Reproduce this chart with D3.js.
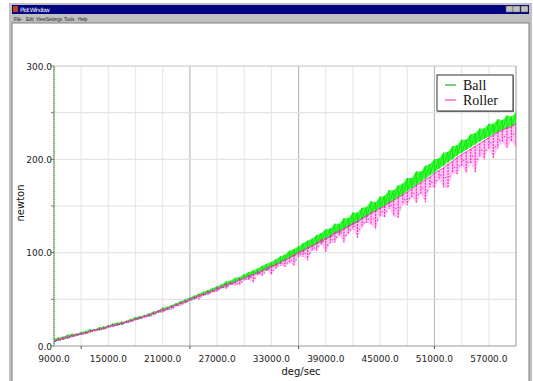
<!DOCTYPE html>
<html>
<head>
<meta charset="utf-8">
<script src="https://cdn.jsdelivr.net/npm/d3@7"></script>
<style>
body{margin:0;background:#fff;}
svg{display:block;}
</style>
</head>
<body>
<div id="container"></div>
<script>
var width = 533;
var height = 381;

// tick labels
var speedLabels = [9000, 15000, 21000, 27000, 33000, 39000, 45000, 51000, 57000];
var speedMajor = [12000, 24000, 36000, 51000];
var forceLabels = [0, 100, 200, 300];
var menuItems = ["File", "Edit", "View", "Settings", "Tools", "Help"];
var seriesNames = ["Ball", "Roller"];
var seriesColors = ["#00f000", "#ff22cc"];

// sampled every 500 deg/sec from 9000 to 60000 (newton), upper and lower edge of the noise
var ballHi = [8,9,10,12,13,13,15,16,18,18,20,21,22,24,25,26,27,29,31,32,33,35,37,38,41,42,44,46,48,50,
	52,54,56,58,60,62,64,66,69,70,73,74,77,79,81,83,86,88,90,93,96,98,102,104,107,110,113,115,119,121,
	125,126,131,131,137,137,143,143,148,149,155,154,160,161,167,167,172,174,180,180,187,187,193,195,200,201,207,208,214,215,
	221,221,227,228,233,233,238,238,243,242,247,246,250];
var ballLo = [4,6,7,8,10,11,12,13,15,16,17,18,20,21,22,23,25,26,28,29,31,32,34,36,37,39,41,43,45,46,
	49,50,53,54,56,58,60,62,64,66,68,70,72,73,76,77,80,81,84,86,89,91,94,96,99,101,104,106,109,111,
	114,116,120,121,125,127,130,132,136,138,142,144,147,150,153,156,159,162,166,169,172,176,179,183,186,190,193,197,200,204,
	207,210,213,216,219,222,224,227,229,231,233,235,237];
var rollerHi = [7,8,9,11,12,13,14,15,17,18,19,20,22,23,24,25,27,28,30,31,33,34,36,38,40,41,43,45,47,49,
	51,53,55,56,59,60,63,64,67,68,69,72,73,76,77,80,81,84,86,88,90,93,95,98,101,103,106,108,111,114,
	116,118,122,124,126,129,132,134,137,140,143,145,148,150,154,156,159,162,165,168,172,175,178,181,185,188,191,195,198,202,
	205,208,211,214,217,220,223,226,229,231,234,235,238];
var rollerLo = [4,5,7,8,9,11,12,13,14,16,17,18,19,21,22,23,24,26,27,29,30,31,33,35,36,38,39,42,43,46,
	48,51,50,54,55,57,58,62,61,65,65,65,70,71,68,76,75,81,76,83,86,85,89,86,96,96,92,102,102,109,
	100,110,111,118,111,120,125,116,127,132,130,125,139,138,147,139,137,152,151,159,153,163,154,170,169,178,170,169,185,184,
	193,185,196,186,203,200,212,201,212,218,212,219,214];

var speeds = d3.range(9000, 60001, 500);

var svg = d3.select('div#container')
	.append('svg')
	.attr('width', width)
	.attr('height', height)
	.style('font-family', '"DejaVu Sans", sans-serif');

// window frame
svg.append('rect').attr('x', 9).attr('y', 3).attr('width', 523).attr('height', 380).attr('fill', '#c0c0c0');
svg.append('rect').attr('x', 12).attr('y', 5).attr('width', 517).attr('height', 9).attr('fill', '#000080');
svg.append('rect').attr('x', 13).attr('y', 6).attr('width', 5).attr('height', 6).attr('fill', '#c04020');
svg.append('text').attr('x', 20).attr('y', 12).attr('fill', '#fff').attr('font-size', 6)
	.attr('textLength', 30).text('Plot Window');
[506, 513, 521].forEach(function(bx){
	svg.append('rect').attr('x', bx).attr('y', 6).attr('width', 7).attr('height', 6)
		.attr('fill', '#c0c0c0').attr('stroke', '#555').attr('stroke-width', 0.5);
});
var mx = [14, 26, 36, 46, 64, 78];
svg.selectAll('text.menu')
	.data(menuItems)
	.enter()
	.append('text')
	.attr('class', 'menu')
	.attr('x', function(d, i){ return mx[i]; })
	.attr('y', 20.5)
	.attr('font-family', '"Liberation Sans", sans-serif')
	.attr('font-size', 4.5)
	.attr('fill', '#222')
	.text(function(d){ return d; });
svg.append('rect').attr('x', 12).attr('y', 23).attr('width', 517).attr('height', 360)
	.attr('fill', '#fff').attr('stroke', '#808080').attr('stroke-width', 1);

// plot area
var pLeft = 54, pRight = 516, pTop = 66, pBottom = 346;
var x = d3.scaleLinear().domain([9000, 60000]).range([pLeft, pRight]);
var y = d3.scaleLinear().domain([0, 300]).range([pBottom, pTop]);

var G = svg.append('g').attr('id', 'plot');

G.selectAll('line.vgrid')
	.data(d3.range(12000, 60000, 3000))
	.enter()
	.append('line')
	.attr('class', 'vgrid')
	.attr('x1', function(d){ return x(d); })
	.attr('x2', function(d){ return x(d); })
	.attr('y1', pTop)
	.attr('y2', pBottom)
	.attr('stroke', function(d){ return speedMajor.indexOf(d) >= 0 && d != 12000 ? '#bcbcbc' : '#e8e8e8'; })
	.attr('stroke-width', 1.2);

G.selectAll('line.hgrid')
	.data(d3.range(50, 300, 50))
	.enter()
	.append('line')
	.attr('class', 'hgrid')
	.attr('x1', pLeft)
	.attr('x2', pRight)
	.attr('y1', function(d){ return y(d); })
	.attr('y2', function(d){ return y(d); })
	.attr('stroke', '#e4e4e4')
	.attr('stroke-width', 1.2);

// frame
G.append('line').attr('x1', pLeft).attr('x2', pRight).attr('y1', pTop).attr('y2', pTop).attr('stroke', '#c4c4c4');
G.append('line').attr('x1', pRight).attr('x2', pRight).attr('y1', pTop).attr('y2', pBottom).attr('stroke', '#aaaaaa').attr('stroke-width', 1.2);
G.append('line').attr('x1', pLeft).attr('x2', pRight).attr('y1', pBottom).attr('y2', pBottom).attr('stroke', '#9a9a9a').attr('stroke-width', 1.2);

// ticks
G.selectAll('line.xtick')
	.data(speedMajor)
	.enter()
	.append('line')
	.attr('x1', function(d){ return x(d); })
	.attr('x2', function(d){ return x(d); })
	.attr('y1', pBottom)
	.attr('y2', pBottom + 3)
	.attr('stroke', '#555');
G.selectAll('line.ytick')
	.data(d3.range(0, 301, 50))
	.enter()
	.append('line')
	.attr('x1', pLeft - 3)
	.attr('x2', pLeft)
	.attr('y1', function(d){ return y(d); })
	.attr('y2', function(d){ return y(d); })
	.attr('stroke', '#777');

G.selectAll('text.xlab')
	.data(speedLabels)
	.enter()
	.append('text')
	.attr('x', function(d){ return x(d); })
	.attr('y', 362)
	.attr('text-anchor', 'middle')
	.attr('font-size', 9)
	.attr('fill', '#222')
	.text(function(d){ return d3.format('.1f')(d); });
G.selectAll('text.ylab')
	.data(forceLabels)
	.enter()
	.append('text')
	.attr('x', pLeft - 2)
	.attr('y', function(d){ return y(d) + 3.5; })
	.attr('text-anchor', 'end')
	.attr('font-size', 9)
	.attr('fill', '#222')
	.text(function(d){ return d3.format('.1f')(d); });

svg.append('text').attr('x', 301).attr('y', 375).attr('text-anchor', 'middle')
	.attr('font-size', 10).attr('fill', '#111').text('deg/sec');
svg.append('text').attr('transform', 'translate(24,203) rotate(-90)').attr('text-anchor', 'middle')
	.attr('font-size', 10).attr('fill', '#111').text('newton');

// data
var clip = svg.append('clipPath').attr('id', 'pclip');
clip.append('rect').attr('x', pLeft).attr('y', pTop).attr('width', pRight - pLeft).attr('height', pBottom - pTop);

function zigzag(hi, lo){
	var pts = [];
	for(var i = 0; i < speeds.length; i++){
		pts.push([speeds[i], hi[i]]);
		pts.push([speeds[i], lo[i]]);
	}
	return pts;
}
var line = d3.line().x(function(d){ return x(d[0]); }).y(function(d){ return y(d[1]); });
function band(hi, lo){
	return d3.area()
		.x(function(d, i){ return x(speeds[i]); })
		.y0(function(d, i){ return y(lo[i]); })
		.y1(function(d, i){ return y(hi[i]); })(speeds);
}

var D = svg.append('g').attr('clip-path', 'url(#pclip)');
// Ball
D.append('path').attr('d', band(ballHi, ballLo)).attr('fill', seriesColors[0]).attr('opacity', 0.7);
D.append('path')
	.attr('d', line(zigzag(ballHi, ballLo)))
	.attr('fill', 'none')
	.attr('stroke', seriesColors[0])
	.attr('stroke-width', 1);
// Roller
D.append('path').attr('d', band(rollerHi, rollerLo)).attr('fill', seriesColors[1]).attr('opacity', 0.25);
D.selectAll('line.spike')
	.data(speeds)
	.enter()
	.append('line')
	.attr('x1', function(d){ return x(d); })
	.attr('x2', function(d){ return x(d); })
	.attr('y1', function(d, i){ return y(rollerHi[i]); })
	.attr('y2', function(d, i){ return y(rollerLo[i]); })
	.attr('stroke', seriesColors[1])
	.attr('stroke-width', 1.2)
	.attr('stroke-dasharray', '2,1');
D.append('path')
	.attr('d', line(zigzag(rollerHi, rollerHi.map(function(v, i){ return ballLo[i] < v ? ballLo[i] : v; }))))
	.attr('fill', 'none')
	.attr('stroke', seriesColors[1])
	.attr('stroke-width', 0.9)
	.attr('opacity', 0.85);
D.selectAll('circle.dot')
	.data(speeds)
	.enter()
	.append('circle')
	.attr('cx', function(d){ return x(d) + 2; })
	.attr('cy', function(d, i){ return y((rollerHi[i] + rollerLo[i]) / 2); })
	.attr('r', 0.7)
	.attr('fill', '#7a2a9a')
	.attr('opacity', 0.7);

// axis line drawn with both series colours
svg.append('line').attr('x1', x(9000)).attr('x2', x(9000)).attr('y1', y(0)).attr('y2', y(300))
	.attr('stroke', seriesColors[0]).attr('stroke-width', 1);
svg.append('line').attr('x1', x(9000)).attr('x2', x(9000)).attr('y1', y(0)).attr('y2', y(300))
	.attr('stroke', seriesColors[1]).attr('stroke-width', 1).attr('stroke-dasharray', '1,1');

// legend
var L = svg.append('g').attr('transform', 'translate(437,75)');
L.append('rect').attr('x', 1).attr('y', 1).attr('width', 76).attr('height', 36).attr('fill', '#999');
L.append('rect').attr('width', 76).attr('height', 36).attr('fill', '#fff').attr('stroke', '#333');
L.selectAll('g.item')
	.data(seriesNames)
	.enter()
	.append('g')
	.attr('transform', function(d, i){ return 'translate(0,' + (10 + i * 15) + ')'; })
	.each(function(d, i){
		d3.select(this).append('line').attr('x1', 8).attr('x2', 19).attr('y1', 0).attr('y2', 0)
			.attr('stroke', i == 0 ? '#30a030' : '#ff40cc').attr('stroke-width', 1.2);
		d3.select(this).append('text').attr('x', 26).attr('y', 5)
			.attr('font-family', '"Liberation Serif", serif').attr('font-size', 14).attr('fill', '#111')
			.text(d);
	});
</script>
</body>
</html>
